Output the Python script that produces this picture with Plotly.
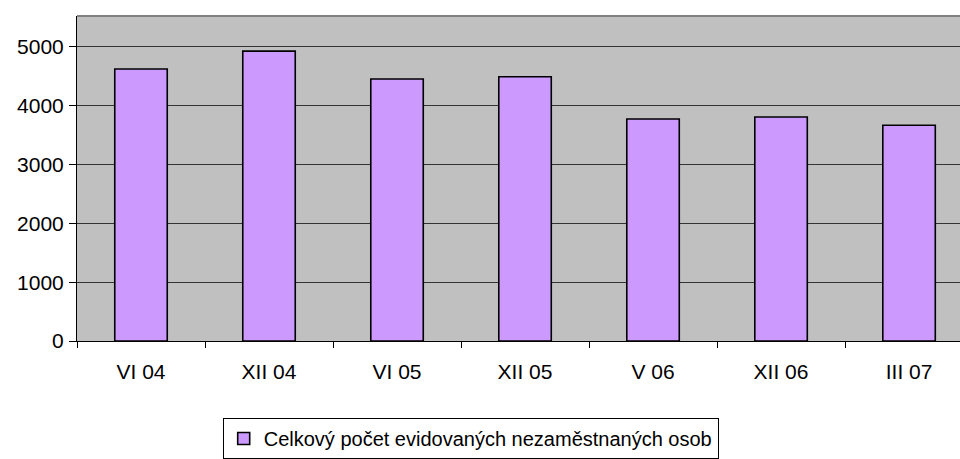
import plotly.graph_objects as go

categories = ["VI 04", "XII 04", "VI 05", "XII 05", "V 06", "XII 06", "III 07"]
values = [4625, 4930, 4455, 4495, 3775, 3810, 3670]
series_name = "Celkový počet evidovaných nezaměstnaných osob"
y_ticks = [0, 1000, 2000, 3000, 4000, 5000]

fig = go.Figure()
fig.add_trace(go.Bar(
    x=categories, y=values, name=series_name,
    marker=dict(color="#CC99FF", line=dict(color="#000000", width=1.6)),
    width=0.41,
))

fig.update_layout(
    width=960, height=459,
    margin=dict(l=77, r=0, t=16, b=118, autoexpand=False),
    paper_bgcolor="white",
    plot_bgcolor="#C0C0C0",
    font=dict(family="Liberation Sans, Arial, sans-serif", size=21, color="black"),
    showlegend=True,
    legend=dict(
        x=0.165, y=-0.237, xanchor="left", yanchor="top",
        bgcolor="white", bordercolor="black", borderwidth=1,
        font=dict(size=20),
    ),
    xaxis=dict(
        type="category", range=[-0.5, 6.398], automargin=False,
        showline=True, linecolor="black", linewidth=1,
        ticks="outside", tickson="boundaries", ticklen=6, tickcolor="black",
        showgrid=False, fixedrange=True, ticklabelstandoff=12,
    ),
    yaxis=dict(
        range=[0, 5527], tickvals=y_ticks, automargin=False,
        showline=True, linecolor="black", linewidth=1,
        ticks="outside", ticklen=7, tickcolor="black",
        showgrid=True, gridcolor="#333333", gridwidth=1,
        zeroline=False, ticklabelstandoff=1,
    ),
    shapes=[dict(type="line", xref="paper", yref="paper", x0=0, x1=1, y0=1, y1=1,
                 line=dict(color="#808080", width=2))],
)

fig.write_html(
    "out.html",
    config={"displayModeBar": False},
    post_script="document.body.style.margin='0';document.body.style.overflow='hidden';",
)
